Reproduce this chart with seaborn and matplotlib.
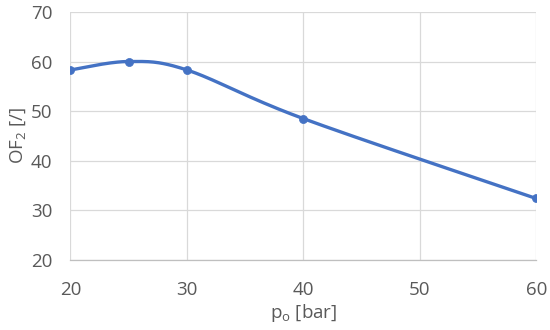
import numpy as np
import pandas as pd
import matplotlib
matplotlib.use("Agg")
import matplotlib.pyplot as plt
import seaborn as sns

# data
pressure = [20, 25, 30, 40, 60]
of_ratio = [58.3, 60.0, 58.3, 48.5, 32.4]

x_ticks = [20, 30, 40, 50, 60]
y_ticks = [20, 30, 40, 50, 60, 70]

blue = "#4472C4"
grey_text = "#595959"
grid_col = "#D9D9D9"


def excel_smooth(x, y, sx, sy, n=40):
    """Catmull-Rom style Bezier smoothing like Excel's 'smoothed line',
    done in (roughly) screen-scaled coordinates."""
    px = np.asarray(x, float) * sx
    py = np.asarray(y, float) * sy
    P = np.column_stack([px, py])
    out = [P[0]]
    for i in range(len(P) - 1):
        p0 = P[i - 1] if i > 0 else P[i]
        p1 = P[i]
        p2 = P[i + 1]
        p3 = P[i + 2] if i + 2 < len(P) else P[i + 1]
        c1 = p1 + (p2 - p0) / 6.0
        c2 = p2 - (p3 - p1) / 6.0
        t = np.linspace(0, 1, n)[1:, None]
        seg = ((1 - t) ** 3) * p1 + 3 * ((1 - t) ** 2) * t * c1 + 3 * (1 - t) * t ** 2 * c2 + t ** 3 * p2
        out.extend(seg)
    out = np.array(out)
    return out[:, 0] / sx, out[:, 1] / sy


sns.set_style("white")
plt.rcParams["font.family"] = ["Open Sans", "DejaVu Sans"]
plt.rcParams["mathtext.default"] = "regular"

fig = plt.figure(figsize=(5.5, 3.3), dpi=100)
ax = fig.add_axes([0.128, 0.212, 0.847, 0.752])

# screen scale: 466 px per 40 units in x, 248 px per 50 units in y
xs, ys = excel_smooth(pressure, of_ratio, 466 / 40, 248 / 50)
curve = pd.DataFrame({"p": xs, "of": ys})
points = pd.DataFrame({"p": pressure, "of": of_ratio})

sns.lineplot(data=curve, x="p", y="of", ax=ax, color=blue, linewidth=2.4,
             sort=False, estimator=None, zorder=3)
sns.scatterplot(data=points, x="p", y="of", ax=ax, color=blue, s=34,
                edgecolor=blue, linewidth=0.5, zorder=4)

ax.set_xlim(20, 60)
ax.set_ylim(20, 70)
ax.set_xticks(x_ticks)
ax.set_yticks(y_ticks)
ax.grid(True, color=grid_col, linewidth=0.9)
ax.set_axisbelow(True)
for side in ["top", "right", "left"]:
    ax.spines[side].set_visible(False)
ax.spines["bottom"].set_color("#BFBFBF")
ax.spines["bottom"].set_linewidth(0.9)

ax.tick_params(axis="both", length=0, labelsize=13.5, labelcolor=grey_text)
ax.tick_params(axis="x", pad=15)
ax.tick_params(axis="y", pad=13)

ax.set_xlabel("p$_o$ [bar]", fontsize=13.5, color=grey_text, labelpad=2)
ax.set_ylabel("OF$_2$ [/]", fontsize=13.5, color=grey_text, labelpad=2)

fig.savefig("out.png", dpi=100)
